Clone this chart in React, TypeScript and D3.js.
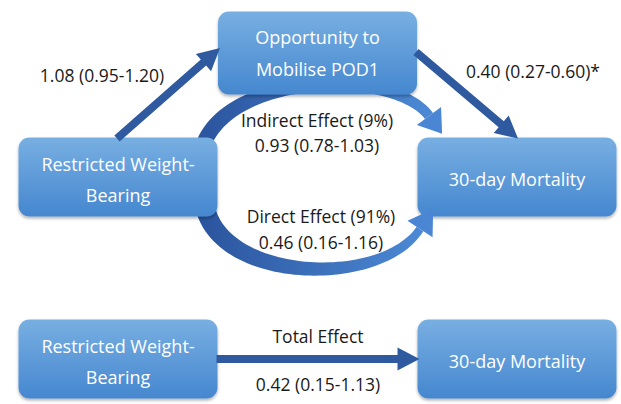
import { useEffect, useRef } from 'react';
import * as d3 from 'd3';

// nodes of the mediation diagram
const nodeLabels = [
  ['Restricted Weight-', 'Bearing'],
  ['Opportunity to', 'Mobilise POD1'],
  ['30-day Mortality'],
  ['Restricted Weight-', 'Bearing'],
  ['30-day Mortality'],
];
const nodeCols = [0, 1, 2, 0, 2];
const nodeRows = ['middle', 'top', 'middle', 'bottom', 'bottom'];

// straight paths: from node -> to node, with its estimate
const pathFrom = [0, 1];
const pathTo = [1, 2];
const pathLabels = ['1.08 (0.95-1.20)', '0.40 (0.27-0.60)*'];

const indirectLabel = ['Indirect Effect (9%)', '0.93 (0.78-1.03)'];
const directLabel = ['Direct Effect (91%)', '0.46 (0.16-1.16)'];
const totalLabel = ['Total Effect', '0.42 (0.15-1.13)'];

const W = 621;
const H = 404;
const BOX_W = 199;
const BOX_H = 79;
const FONT = "'Open Sans', 'Noto Sans', sans-serif";
const ARROW = '#2f5a9f';

type Pt = [number, number];

export default function App() {
  const svgRef = useRef<SVGSVGElement>(null);

  useEffect(() => {
    const svg = d3.select(svgRef.current);
    svg.selectAll('*').remove();

    const x = d3.scalePoint<number>().domain([0, 1, 2]).range([118, 517]);
    const y = d3.scaleOrdinal<string, number>().domain(['top', 'middle', 'bottom']).range([51, 177, 359]);

    const defs = svg.append('defs');
    const g = defs.append('linearGradient').attr('id', 'boxGrad').attr('x1', 0).attr('y1', 0).attr('x2', 0).attr('y2', 1);
    g.append('stop').attr('offset', '0%').attr('stop-color', '#78afe2');
    g.append('stop').attr('offset', '100%').attr('stop-color', '#4587cf');
    const ag = defs.append('linearGradient').attr('id', 'arcGrad').attr('x1', 0).attr('y1', 0).attr('x2', 1).attr('y2', 0);
    ag.append('stop').attr('offset', '0%').attr('stop-color', '#2a539c');
    ag.append('stop').attr('offset', '100%').attr('stop-color', '#4c89d5');
    const sh = defs.append('filter').attr('id', 'shadow').attr('x', '-10%').attr('y', '-10%').attr('width', '120%').attr('height', '130%');
    sh.append('feDropShadow').attr('dx', 0).attr('dy', 2).attr('stdDeviation', 1.5).attr('flood-color', '#000').attr('flood-opacity', 0.3);

    const nx = (i: number) => x(nodeCols[i]) as number;
    const ny = (i: number) => y(nodeRows[i]);

    // arrow polygon from tail to tip
    const arrowPts = (x0: number, y0: number, x1: number, y1: number, shaft: number, headW: number, headL: number): Pt[] => {
      const dx = x1 - x0, dy = y1 - y0;
      const len = Math.hypot(dx, dy);
      const ux = dx / len, uy = dy / len;
      const px = -uy, py = ux;
      const bx = x1 - ux * headL, by = y1 - uy * headL;
      return [
        [x0 + px * shaft / 2, y0 + py * shaft / 2],
        [bx + px * shaft / 2, by + py * shaft / 2],
        [bx + px * headW / 2, by + py * headW / 2],
        [x1, y1],
        [bx - px * headW / 2, by - py * headW / 2],
        [bx - px * shaft / 2, by - py * shaft / 2],
        [x0 - px * shaft / 2, y0 - py * shaft / 2],
      ];
    };
    const poly = d3.line().curve(d3.curveLinearClosed);

    // tapered curved arrow along a cubic bezier
    const curvedArrow = (p: Pt[], w0: number, w1: number, headW: number, headL: number) => {
      const n = 60;
      const a: Pt[] = [];
      const b: Pt[] = [];
      const at = (t: number): Pt => {
        const m = 1 - t;
        return [
          m * m * m * p[0][0] + 3 * m * m * t * p[1][0] + 3 * m * t * t * p[2][0] + t * t * t * p[3][0],
          m * m * m * p[0][1] + 3 * m * m * t * p[1][1] + 3 * m * t * t * p[2][1] + t * t * t * p[3][1],
        ];
      };
      const der = (t: number): Pt => {
        const m = 1 - t;
        const d = (k: number) => 3 * m * m * (p[1][k] - p[0][k]) + 6 * m * t * (p[2][k] - p[1][k]) + 3 * t * t * (p[3][k] - p[2][k]);
        const dx = d(0), dy = d(1);
        const l = Math.hypot(dx, dy);
        return [dx / l, dy / l];
      };
      for (let k = 0; k <= n; k++) {
        const t = k / n;
        const [cx, cy] = at(t);
        const [dx, dy] = der(t);
        const w = w0 + (w1 - w0) * t;
        a.push([cx - dy * w / 2, cy + dx * w / 2]);
        b.push([cx + dy * w / 2, cy - dx * w / 2]);
      }
      const [ex, ey] = at(1);
      const [dx, dy] = der(1);
      const head: Pt[] = [
        [ex - dy * headW / 2, ey + dx * headW / 2],
        [ex + dx * headL, ey + dy * headL],
        [ex + dy * headW / 2, ey - dx * headW / 2],
      ];
      return { body: [...a, ...b.reverse()], head };
    };

    const drawBox = (i: number) => {
      const gx = svg.append('g').attr('transform', `translate(${nx(i)},${ny(i)})`);
      const hh = i === 1 ? BOX_H + 4 : BOX_H;
      gx.append('rect')
        .attr('x', -BOX_W / 2).attr('y', -BOX_H / 2)
        .attr('width', BOX_W).attr('height', hh)
        .attr('rx', 11)
        .attr('fill', 'url(#boxGrad)')
        .attr('filter', 'url(#shadow)');
      const lines = nodeLabels[i];
      const gap = i === 1 ? 32 : 31;
      gx.selectAll('text.l').data(lines).enter().append('text')
        .attr('x', 0)
        .attr('y', (_, k) => (k - (lines.length - 1) / 2) * gap + 9)
        .attr('text-anchor', 'middle')
        .attr('fill', '#fff')
        .attr('font-family', FONT)
        .attr('font-size', 18)
        .text(d => d);
    };

    // right column first so the arc heads sit over it
    drawBox(2);

    const upper = curvedArrow([[200, 158], [212, 72], [392, 66], [429, 116]], 16, 10, 30, 22);
    const lower = curvedArrow([[204, 200], [212, 282], [380, 290], [420, 229]], 20, 8, 30, 24);
    [upper, lower].forEach(a => {
      svg.append('path').attr('d', poly(a.body)).attr('fill', 'url(#arcGrad)');
      svg.append('path').attr('d', poly(a.head)).attr('fill', '#4a86d3');
    });

    drawBox(0);
    drawBox(1);
    drawBox(3);
    drawBox(4);

    // straight mediator paths
    pathFrom.forEach((f, k) => {
      const t = pathTo[k];
      const pts = k === 0
        ? arrowPts(nx(f) - 1, ny(f) - BOX_H / 2 + 1, nx(t) - BOX_W / 2 + 2, ny(t) - 3, 8, 23, 22)
        : arrowPts(nx(f) + BOX_W / 2 - 1, ny(f) + 1, nx(t) + 1, ny(t) - BOX_H / 2 + 1, 8, 23, 22);
      svg.append('path').attr('d', poly(pts)).attr('fill', ARROW);
    });

    // total effect arrow
    svg.append('path')
      .attr('d', poly(arrowPts(nx(3) + BOX_W / 2 - 1, ny(3), nx(4) - BOX_W / 2 + 2, ny(4), 8, 23, 22)))
      .attr('fill', ARROW);

    const label = (txt: string, lx: number, ly: number) =>
      svg.append('text').attr('x', lx).attr('y', ly).attr('text-anchor', 'middle')
        .attr('fill', '#1a1a1a').attr('font-family', FONT).attr('font-size', 17.5).text(txt);

    label(pathLabels[0], 102, 82);
    label(pathLabels[1], 533, 78);
    label(indirectLabel[0], 317, 127);
    label(indirectLabel[1], 317, 152);
    label(directLabel[0], 321, 223);
    label(directLabel[1], 321, 249);
    label(totalLabel[0], 318, 343);
    label(totalLabel[1], 318, 391);
  }, []);

  return (
    <svg ref={svgRef} width={W} height={H} style={{ position: 'absolute', left: 0, top: 0, background: '#fff' }} />
  );
}
